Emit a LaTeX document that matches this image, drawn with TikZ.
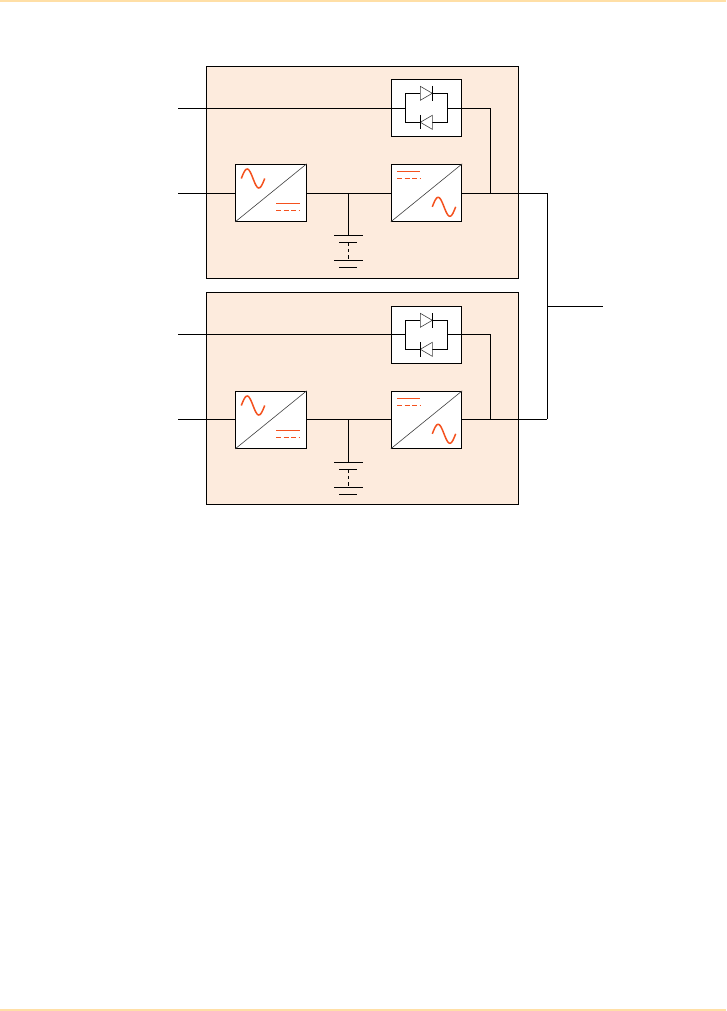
\documentclass[tikz,border=0pt]{standalone}
\usepackage{tikz}
\usetikzlibrary{arrows.meta,positioning,calc}
\definecolor{panelfill}{HTML}{FDEBDD}
\definecolor{wave}{HTML}{F4511E}
\definecolor{strip}{HTML}{FFDFA6}
\newcommand{\sinewave}[2]{\draw[sine] plot[smooth,samples=25,domain=0:23.4] ({#1-11.7+\x},{#2-9.5*sin(\x*360/23.4)});}

\begin{document}
\begin{tikzpicture}[
    x=1pt, y=-1pt,
    panel/.style={draw, fill=panelfill, minimum width=312pt, minimum height=212.3pt, inner sep=0pt},
    box/.style={draw, fill=white, minimum width=70.4pt, minimum height=57pt, inner sep=0pt},
    wire/.style={line width=1pt},
    thinwire/.style={line width=0.6pt, black!75},
    sine/.style={wave, line width=1.5pt},
    dcline/.style={wave, line width=0.9pt},
    every node/.style={line width=1pt}
]
\useasboundingbox (0,0) rectangle (726,1011);
\fill[strip] (0,0) rectangle (726,2);
\fill[strip] (0,1009) rectangle (726,1011);

\foreach \u/\dy/\adj in {a/0/0,b/227/1} {
\begin{scope}[yshift=-\dy pt]
\node[panel] (panel\u) at (362.3,{172.2-\adj}) {};
\node[box] (bypass\u) at (426.5,107.8) {};
\node[box] (rect\u) at (271,192.8) {};
\node[box] (inv\u) at (426.5,192.8) {};

\coordinate (inA\u) at (178,{108.3-\adj});
\coordinate (inB\u) at (178,{193.3-\adj});
\coordinate (bridgeL\u) at (405.3,{108.3-\adj});
\coordinate (bridgeR\u) at (447.7,{108.3-\adj});
\coordinate (tap\u) at (490.3,{108.3-\adj});
\coordinate (join\u) at (490.3,{193.3-\adj});
\coordinate (out\u) at (547.3,{193.3-\adj});
\coordinate (bus\u) at (348.3,{193.3-\adj});
\coordinate (plate\u) at (348.3,235.3);

% wires
\draw[wire] (inA\u) -- (bridgeL\u);
\draw[wire] (inB\u) -- (rect\u.west |- inB\u);
\draw[wire] (rect\u.east |- bus\u) -- (inv\u.west |- bus\u);
\draw[wire] (bus\u) -- (plate\u);
\draw[wire] (bridgeR\u) -- (tap\u) -- (join\u);
\draw[wire] (inv\u.east |- join\u) -- (out\u);

% diagonals
\draw[thinwire] (rect\u.south west) -- (rect\u.north east);
\draw[thinwire] (inv\u.south west) -- (inv\u.north east);

% antiparallel diodes
\draw[wire] (420.3,93.3) -- (405.3,93.3) -- (bridgeL\u) -- (405.3,122.3) -- (420.3,122.3);
\draw[wire] (432.3,93.3) -- (447.7,93.3) -- (bridgeR\u) -- (447.7,122.3) -- (432.3,122.3);
\draw[thinwire] (420.3,86.3) -- (432.3,93.3) -- (420.3,100.3) -- cycle;
\draw[wire] (432.3,86) -- (432.3,100.7);
\draw[thinwire] (432.3,115.3) -- (420.3,122.3) -- (432.3,129.3) -- cycle;
\draw[wire] (420.3,115) -- (420.3,129.5);

% battery
\draw[wire] (334,235.3) -- (362.7,235.3);
\draw[wire] (339,242.3) -- (356.7,242.3);
\draw[wire, dash pattern=on 3.5pt off 3pt] (348.3,242.3) -- (348.3,260.3);
\draw[wire] (334,260.3) -- (362.7,260.3);
\draw[wire] (339,267.3) -- (356.7,267.3);

% symbols
\sinewave{253}{178.5}
\sinewave{444}{206.8}
\draw[dcline] (276,203.3) -- (300,203.3);
\draw[dcline, dash pattern=on 5pt off 2.5pt] (276,210.3) -- (300,210.3);
\draw[dcline] (397,171.3) -- (420.3,171.3);
\draw[dcline, dash pattern=on 5pt off 2.5pt] (397,178.3) -- (420.3,178.3);
\end{scope}
}

\coordinate (grid) at (603.3,306.3);
\draw[wire] (outa) -- (outb);
\draw[wire] (outa |- grid) -- (grid);
\end{tikzpicture}
\end{document}
